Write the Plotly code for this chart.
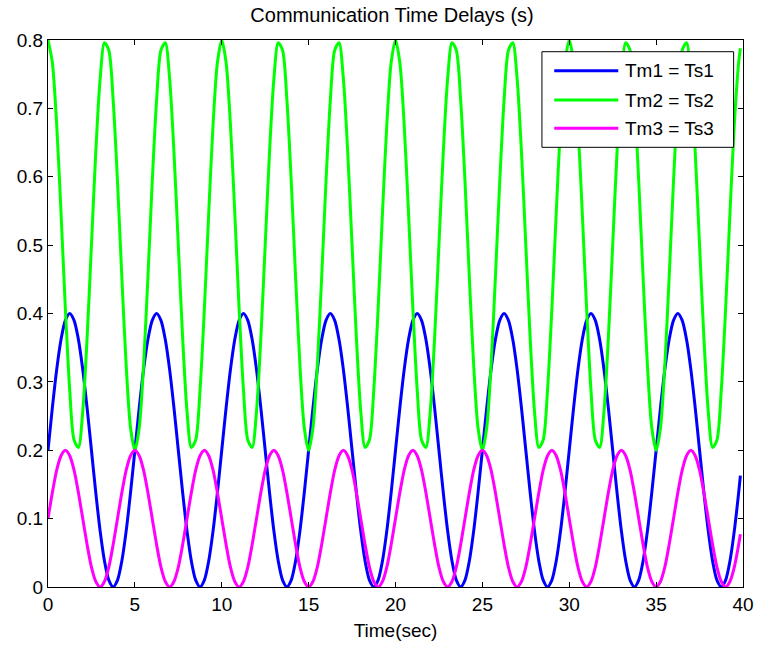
import plotly.graph_objects as go

# sampling grid (s): 0 .. 39.75 every 0.25 s, last sample at 39.85 s
time_s = [i * 0.25 for i in range(160)] + [39.85]

series_names = ["Tm1 = Ts1", "Tm2 = Ts2", "Tm3 = Ts3"]

tm1 = [
    0.200, 0.262, 0.318, 0.362, 0.390, 0.400, 0.390, 0.362, 0.318, 0.262, 0.200, 0.138, 0.082, 0.038, 0.010, 0.000, 0.010, 0.038, 0.082, 0.138,
    0.200, 0.262, 0.318, 0.362, 0.390, 0.400, 0.390, 0.362, 0.318, 0.262, 0.200, 0.138, 0.082, 0.038, 0.010, 0.000, 0.010, 0.038, 0.082, 0.138,
    0.200, 0.262, 0.318, 0.362, 0.390, 0.400, 0.390, 0.362, 0.318, 0.262, 0.200, 0.138, 0.082, 0.038, 0.010, 0.000, 0.010, 0.038, 0.082, 0.138,
    0.200, 0.262, 0.318, 0.362, 0.390, 0.400, 0.390, 0.362, 0.318, 0.262, 0.200, 0.138, 0.082, 0.038, 0.010, 0.000, 0.010, 0.038, 0.082, 0.138,
    0.200, 0.262, 0.318, 0.362, 0.390, 0.400, 0.390, 0.362, 0.318, 0.262, 0.200, 0.138, 0.082, 0.038, 0.010, 0.000, 0.010, 0.038, 0.082, 0.138,
    0.200, 0.262, 0.318, 0.362, 0.390, 0.400, 0.390, 0.362, 0.318, 0.262, 0.200, 0.138, 0.082, 0.038, 0.010, 0.000, 0.010, 0.038, 0.082, 0.138,
    0.200, 0.262, 0.318, 0.362, 0.390, 0.400, 0.390, 0.362, 0.318, 0.262, 0.200, 0.138, 0.082, 0.038, 0.010, 0.000, 0.010, 0.038, 0.082, 0.138,
    0.200, 0.262, 0.318, 0.362, 0.390, 0.400, 0.390, 0.362, 0.318, 0.262, 0.200, 0.138, 0.082, 0.038, 0.010, 0.000, 0.010, 0.038, 0.082, 0.138,
    0.163,
]

tm2 = [
    0.800, 0.767, 0.676, 0.547, 0.407, 0.288, 0.215, 0.204, 0.257, 0.364, 0.500, 0.636, 0.743, 0.796, 0.785, 0.712, 0.593, 0.453, 0.324, 0.233,
    0.200, 0.233, 0.324, 0.453, 0.593, 0.712, 0.785, 0.796, 0.743, 0.636, 0.500, 0.364, 0.257, 0.204, 0.215, 0.288, 0.407, 0.547, 0.676, 0.767,
    0.800, 0.767, 0.676, 0.547, 0.407, 0.288, 0.215, 0.204, 0.257, 0.364, 0.500, 0.636, 0.743, 0.796, 0.785, 0.712, 0.593, 0.453, 0.324, 0.233,
    0.200, 0.233, 0.324, 0.453, 0.593, 0.712, 0.785, 0.796, 0.743, 0.636, 0.500, 0.364, 0.257, 0.204, 0.215, 0.288, 0.407, 0.547, 0.676, 0.767,
    0.800, 0.767, 0.676, 0.547, 0.407, 0.288, 0.215, 0.204, 0.257, 0.364, 0.500, 0.636, 0.743, 0.796, 0.785, 0.712, 0.593, 0.453, 0.324, 0.233,
    0.200, 0.233, 0.324, 0.453, 0.593, 0.712, 0.785, 0.796, 0.743, 0.636, 0.500, 0.364, 0.257, 0.204, 0.215, 0.288, 0.407, 0.547, 0.676, 0.767,
    0.800, 0.767, 0.676, 0.547, 0.407, 0.288, 0.215, 0.204, 0.257, 0.364, 0.500, 0.636, 0.743, 0.796, 0.785, 0.712, 0.593, 0.453, 0.324, 0.233,
    0.200, 0.233, 0.324, 0.453, 0.593, 0.712, 0.785, 0.796, 0.743, 0.636, 0.500, 0.364, 0.257, 0.204, 0.215, 0.288, 0.407, 0.547, 0.676, 0.767,
    0.788,
]

tm3 = [
    0.100, 0.138, 0.171, 0.192, 0.200, 0.192, 0.171, 0.138, 0.100, 0.062, 0.029, 0.008, 0.000, 0.008, 0.029, 0.062,
    0.100, 0.138, 0.171, 0.192, 0.200, 0.192, 0.171, 0.138, 0.100, 0.062, 0.029, 0.008, 0.000, 0.008, 0.029, 0.062,
    0.100, 0.138, 0.171, 0.192, 0.200, 0.192, 0.171, 0.138, 0.100, 0.062, 0.029, 0.008, 0.000, 0.008, 0.029, 0.062,
    0.100, 0.138, 0.171, 0.192, 0.200, 0.192, 0.171, 0.138, 0.100, 0.062, 0.029, 0.008, 0.000, 0.008, 0.029, 0.062,
    0.100, 0.138, 0.171, 0.192, 0.200, 0.192, 0.171, 0.138, 0.100, 0.062, 0.029, 0.008, 0.000, 0.008, 0.029, 0.062,
    0.100, 0.138, 0.171, 0.192, 0.200, 0.192, 0.171, 0.138, 0.100, 0.062, 0.029, 0.008, 0.000, 0.008, 0.029, 0.062,
    0.100, 0.138, 0.171, 0.192, 0.200, 0.192, 0.171, 0.138, 0.100, 0.062, 0.029, 0.008, 0.000, 0.008, 0.029, 0.062,
    0.100, 0.138, 0.171, 0.192, 0.200, 0.192, 0.171, 0.138, 0.100, 0.062, 0.029, 0.008, 0.000, 0.008, 0.029, 0.062,
    0.100, 0.138, 0.171, 0.192, 0.200, 0.192, 0.171, 0.138, 0.100, 0.062, 0.029, 0.008, 0.000, 0.008, 0.029, 0.062,
    0.100, 0.138, 0.171, 0.192, 0.200, 0.192, 0.171, 0.138, 0.100, 0.062, 0.029, 0.008, 0.000, 0.008, 0.029, 0.062,
    0.077,
]

x_ticks = [0, 5, 10, 15, 20, 25, 30, 35, 40]
y_ticks = [0, 0.1, 0.2, 0.3, 0.4, 0.5, 0.6, 0.7, 0.8]
y_tick_text = ["0", "0.1", "0.2", "0.3", "0.4", "0.5", "0.6", "0.7", "0.8"]

colors = ["#0000FF", "#00FF00", "#FF00FF"]
FONT = "Liberation Sans, Arial, Helvetica, sans-serif"
FS = 19

fig = go.Figure()
for name, vals, col in zip(series_names, [tm1, tm2, tm3], colors):
    fig.add_trace(go.Scatter(
        x=time_s, y=vals, mode="lines", name=name, showlegend=False,
        line=dict(color=col, width=3, shape="spline", smoothing=0.8),
    ))

axis_common = dict(
    showline=True, linecolor="black", linewidth=1, mirror="ticks",
    ticks="inside", ticklen=5, tickcolor="black", tickwidth=1,
    showgrid=False, zeroline=False, automargin=False,
    tickfont=dict(family=FONT, size=FS, color="black"),
)

fig.update_xaxes(range=[0, 40], tickvals=x_ticks, **axis_common,
                 title=dict(text="Time(sec)", font=dict(family=FONT, size=FS, color="black"), standoff=9))
fig.update_yaxes(range=[0, 0.8], tickvals=y_ticks, ticktext=y_tick_text, **axis_common)

# MATLAB-style legend box (top right, inside axes)
legend_box = dict(x0=0.7107, x1=0.9865, y0=0.8038, y1=0.9786)
legend_line_x = (0.7284, 0.8205)
legend_text_x = 0.8280
legend_rows_y = [0.9439, 0.8903, 0.8386]

shapes = [dict(type="rect", xref="paper", yref="paper", layer="above",
               fillcolor="white", line=dict(color="black", width=1), **legend_box)]
annotations = []
for name, col, ry in zip(series_names, colors, legend_rows_y):
    shapes.append(dict(type="line", xref="paper", yref="paper", layer="above",
                       x0=legend_line_x[0], x1=legend_line_x[1], y0=ry, y1=ry,
                       line=dict(color=col, width=3)))
    annotations.append(dict(text=name, xref="paper", yref="paper", x=legend_text_x, y=ry,
                            xanchor="left", yanchor="middle", showarrow=False,
                            font=dict(family=FONT, size=FS, color="black")))

fig.update_layout(
    width=757, height=647,
    margin=dict(l=48, r=14, t=40, b=60),
    paper_bgcolor="white", plot_bgcolor="white",
    title=dict(text="Communication Time Delays (s)", x=0.495, xref="paper", xanchor="center",
               y=1 - 14.5 / 647, yanchor="middle", yref="container",
               font=dict(family=FONT, size=FS + 1, color="black")),
    shapes=shapes, annotations=annotations,
    showlegend=False,
)

fig.write_html("out.html", config={"displayModeBar": False},
               post_script="document.body.style.margin='0';document.body.style.overflow='hidden';")
